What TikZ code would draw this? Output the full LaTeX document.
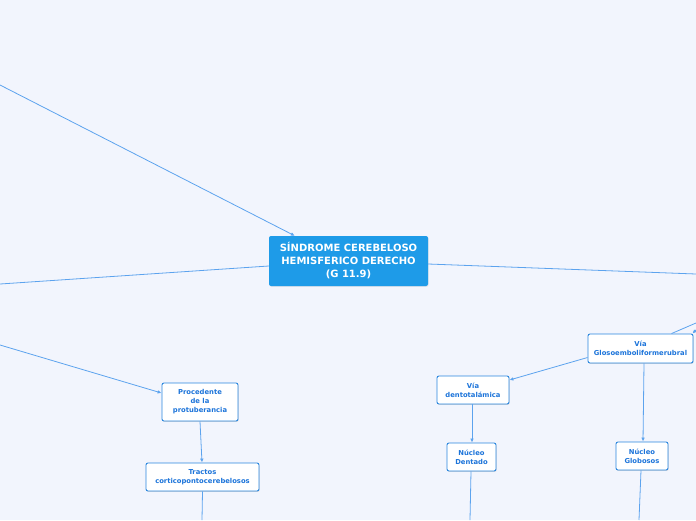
\documentclass[tikz,border=0pt]{standalone}
\usepackage{fontspec}
\setmainfont{DejaVu Sans}
\usetikzlibrary{arrows.meta,shadows}
\definecolor{bg}{HTML}{F2F5FD}
\definecolor{mainfill}{HTML}{1E9BE8}
\definecolor{boxline}{HTML}{2A86DE}
\definecolor{boxtext}{HTML}{1C74DA}
\definecolor{edge}{HTML}{5CA3EE}
\tikzset{
  mainbox/.style={rectangle, rounded corners=2pt, fill=mainfill, draw=none,
    text=white, font=\fontsize{10}{13}\selectfont\bfseries, align=center,
    inner sep=0pt, drop shadow={opacity=0.15,shadow xshift=0.6pt,shadow yshift=-0.8pt}},
  subbox/.style={rectangle, rounded corners=2pt, fill=white, draw=boxline, line width=0.9pt,
    text=boxtext, font=\fontsize{6.8}{9}\selectfont\bfseries, align=center,
    inner sep=0pt, drop shadow={opacity=0.25,shadow xshift=0.6pt,shadow yshift=-0.9pt}},
  conn/.style={draw=edge, line width=0.8pt},
  arr/.style={conn, -{Latex[length=4pt,width=3.6pt]}}
}
\begin{document}
\begin{tikzpicture}[x=1pt,y=-1pt]
\fill[bg] (0,0) rectangle (696,520);
\useasboundingbox (0,0) rectangle (696,520);

\node[mainbox, minimum width=159pt, minimum height=50pt] (c) at (348.5,261)
  {SÍNDROME CEREBELOSO\\HEMISFERICO DERECHO \\(G 11.9)};
\node[subbox, minimum width=76pt, minimum height=38pt] (p) at (200,402)
  {Procedente\\de la\\protuberancia};
\node[subbox, minimum width=113pt, minimum height=28pt] (t) at (202.5,477)
  {Tractos\\corticopontocerebelosos};
\node[subbox, minimum width=72pt, minimum height=28pt] (vd) at (473,390)
  {Vía\\dentotalámica};
\node[subbox, minimum width=49pt, minimum height=28pt] (nd) at (471.5,457)
  {Núcleo\\Dentado};
\node[subbox, minimum width=105pt, minimum height=29pt] (vg) at (640.5,348.5)
  {Vía\\Glosoemboliformerubral};
\node[subbox, minimum width=52pt, minimum height=28pt] (ng) at (642,456)
  {Núcleo\\Globosos};

\coordinate (a1) at (0,85);
\coordinate (a2) at (0,284);
\coordinate (a3) at (696,274);
\coordinate (a4) at (0,345);
\coordinate (b1) at (202,520);
\coordinate (b2) at (470,520);
\coordinate (b3) at (639,520);
\coordinate (r1) at (696,323);
\coordinate (r2) at (696,330);

\draw[arr] (a1) -- ([xshift=26pt]c.north west);
\draw[conn] (a2) -- ([yshift=-5pt]c.west);
\draw[conn] ([yshift=-3pt]c.east) -- (a3);
\draw[arr] (a4) -- ([yshift=9pt]p.west);
\draw[arr] (p.south) -- ([xshift=-0.5pt]t.north);
\draw[conn] (t.south) -- (b1);
\draw[arr] ([yshift=-9pt]vg.west) -- ([yshift=10pt]vd.east);
\draw[arr] ([xshift=-1pt]vd.south) -- ([xshift=0.5pt]nd.north);
\draw[conn] ([xshift=-0.5pt]nd.south) -- (b2);
\draw[arr] ([xshift=3.5pt]vg.south) -- ([xshift=1pt]ng.north);
\draw[conn] ([xshift=-1pt]ng.south) -- (b3);
\draw[conn] (r1) -- ([xshift=31pt]vg.north);
\draw[arr] (r2) -- ([xshift=-1pt]vg.north east);
\end{tikzpicture}
\end{document}
